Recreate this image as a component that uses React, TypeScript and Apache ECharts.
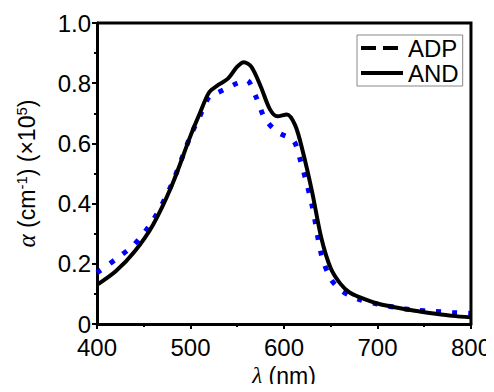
import React, { useEffect, useRef } from "react";
import * as echarts from "echarts";

const andWavelengths = [400, 420, 440, 460, 480, 500, 510, 520, 530, 540, 550, 557, 565, 575, 585, 593, 603, 612, 620, 630, 640, 650, 660, 670, 680, 700, 720, 740, 760, 780, 800];
const andValues = [0.13, 0.175, 0.24, 0.33, 0.46, 0.625, 0.7, 0.77, 0.795, 0.815, 0.855, 0.87, 0.855, 0.79, 0.713, 0.69, 0.696, 0.66, 0.575, 0.44, 0.285, 0.185, 0.135, 0.105, 0.09, 0.068, 0.055, 0.044, 0.035, 0.027, 0.022];

const adpWavelengths = [400, 420, 440, 460, 480, 500, 510, 520, 530, 540, 550, 560, 570, 580, 594, 610, 617, 630, 640, 650, 660, 670, 680, 700, 720, 740, 760, 780, 800];
const adpValues = [0.17, 0.215, 0.265, 0.345, 0.465, 0.625, 0.69, 0.755, 0.77, 0.785, 0.8, 0.81, 0.755, 0.68, 0.636, 0.61, 0.55, 0.395, 0.23, 0.15, 0.115, 0.095, 0.082, 0.066, 0.055, 0.046, 0.042, 0.038, 0.035];

const seriesNames = ["ADP", "AND"];
const xTicks = { min: 400, max: 800, interval: 100 };
const yTicks = { min: 0, max: 1, interval: 0.2 };

const FONT = "Liberation Sans, Arial, sans-serif";

export default function App() {
  const ref = useRef<HTMLDivElement>(null);
  useEffect(() => {
    if (!ref.current) return;
    const chart = echarts.init(ref.current, null, { renderer: "svg" });
    chart.setOption({
      animation: false,
      backgroundColor: "#fff",
      textStyle: { fontFamily: FONT, color: "#000" },
      grid: {
        left: 97,
        right: 22,
        top: 23,
        bottom: 65,
        containLabel: false,
      },
      legend: {
        orient: "vertical",
        left: 357,
        top: 35,
        itemWidth: 42,
        itemHeight: 4,
        itemGap: 1,
        padding: [1, 4, 1, 2],
        borderColor: "#888",
        borderWidth: 1,
        backgroundColor: "#fff",
        textStyle: { fontFamily: FONT, fontSize: 24, color: "#000", lineHeight: 23 },
        data: [
          { name: seriesNames[0], lineStyle: { color: "#000", type: [15, 7], width: 4 }, itemStyle: { opacity: 0 } },
          { name: seriesNames[1], lineStyle: { color: "#000", type: "solid", width: 4 }, itemStyle: { opacity: 0 } },
        ],
      },
      xAxis: {
        type: "value",
        min: xTicks.min,
        max: xTicks.max,
        interval: xTicks.interval,
        name: "{i|λ} (nm)",
        nameLocation: "middle",
        nameGap: 40,
        nameTextStyle: {
          fontSize: 23,
          fontFamily: FONT,
          color: "#000",
          rich: { i: { fontSize: 23, fontStyle: "italic", fontFamily: "Liberation Serif, serif", color: "#000" } },
        },
        axisLine: { show: true, onZero: false, lineStyle: { color: "#000", width: 3 } },
        axisTick: { show: true, inside: false, length: 5, lineStyle: { color: "#000", width: 2 } },
        minorTick: { show: true, splitNumber: 2, length: 3, lineStyle: { color: "#000", width: 2 } },
        axisLabel: { fontSize: 24, fontFamily: FONT, color: "#000", margin: 11 },
        splitLine: { show: false },
      },
      yAxis: {
        type: "value",
        min: yTicks.min,
        max: yTicks.max,
        interval: yTicks.interval,
        name: "{i|α} (cm{s|-1}) (×10{s|5})",
        nameLocation: "middle",
        nameRotate: 90,
        nameGap: 58,
        nameTextStyle: {
          fontSize: 23,
          fontFamily: FONT,
          color: "#000",
          rich: {
            i: { fontSize: 25, fontStyle: "italic", fontFamily: "Liberation Serif, serif", color: "#000" },
            s: { fontSize: 15, verticalAlign: "top", color: "#000", fontFamily: FONT },
          },
        },
        axisLine: { show: true, onZero: false, lineStyle: { color: "#000", width: 3 } },
        axisTick: { show: true, inside: false, length: 5, lineStyle: { color: "#000", width: 2 } },
        minorTick: { show: true, splitNumber: 2, length: 3, lineStyle: { color: "#000", width: 2 } },
        axisLabel: {
          fontSize: 24,
          fontFamily: FONT,
          color: "#000",
          margin: 6,
          formatter: (v: number) => (v === 0 ? "0" : v.toFixed(1)),
        },
        splitLine: { show: false },
      },
      series: [
        {
          name: seriesNames[0],
          type: "line",
          data: adpWavelengths.map((x, i) => [x, adpValues[i]]),
          smooth: 0.3,
          symbol: "none",
          lineStyle: { color: "#0000ff", width: 5, type: [5, 11] },
          itemStyle: { color: "#0000ff" },
          z: 2,
        },
        {
          name: seriesNames[1],
          type: "line",
          data: andWavelengths.map((x, i) => [x, andValues[i]]),
          smooth: 0.3,
          symbol: "none",
          lineStyle: { color: "#000", width: 4 },
          itemStyle: { color: "#000" },
          z: 3,
        },
        {
          name: "frame",
          type: "custom",
          silent: true,
          clip: false,
          z: 10,
          data: [[xTicks.max, yTicks.max]],
          renderItem: (params: any, api: any) => {
            const tl = api.coord([xTicks.min, yTicks.max]);
            const tr = api.coord([xTicks.max, yTicks.max]);
            const br = api.coord([xTicks.max, yTicks.min]);
            return {
              type: "polyline",
              shape: { points: [tl, tr, br] },
              style: { stroke: "#000", lineWidth: 3, fill: "none" },
            };
          },
        },
      ],
    });
    return () => chart.dispose();
  }, []);
  return <div ref={ref} style={{ width: 494, height: 392, margin: -8 }} />;
}
